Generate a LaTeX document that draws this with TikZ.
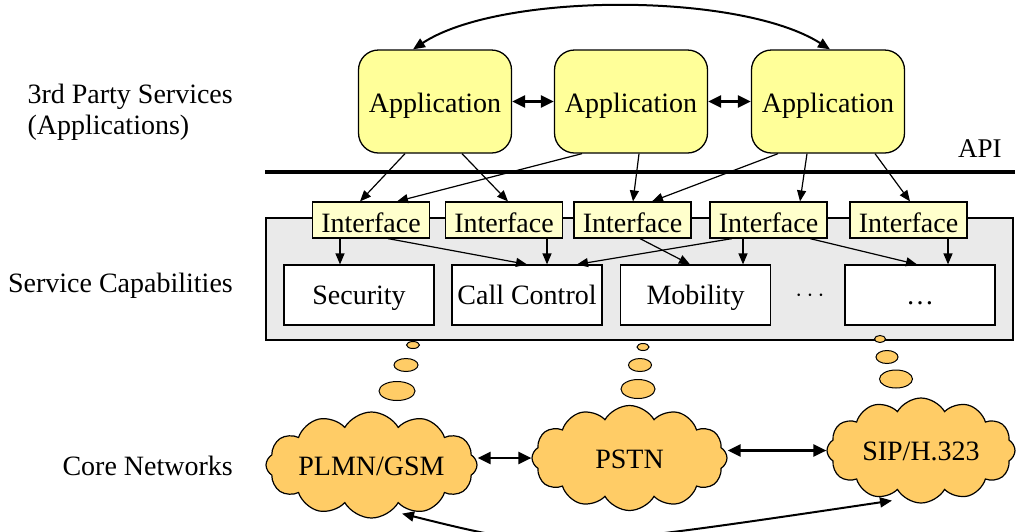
\documentclass[tikz,border=0pt]{standalone}
\usepackage{fontspec}
\setmainfont{Liberation Serif}
\usetikzlibrary{arrows.meta,shapes.symbols}
\definecolor{appfill}{HTML}{FFFF99}
\definecolor{intfill}{HTML}{FFFFCC}
\definecolor{cloudfill}{HTML}{FFCC66}
\definecolor{panelfill}{HTML}{EAEAEA}
\begin{document}
\begin{tikzpicture}[x=1pt,y=-1pt,
  every node/.style={font=\fontsize{28}{31}\selectfont},
  lbl/.style={inner sep=0pt},
  app/.style={draw,line width=1.3pt,fill=appfill,rounded corners=20pt,minimum width=153pt,minimum height=103pt,inner sep=0pt,text height=24pt,text depth=2pt},
  intf/.style={draw,line width=1.2pt,fill=intfill,minimum width=117pt,minimum height=36pt,inner sep=0pt,text height=24pt,text depth=0pt},
  capbox/.style={draw,line width=1.2pt,fill=white,minimum width=150pt,minimum height=60pt,inner sep=0pt,text height=22pt,text depth=4pt},
  panel/.style={draw,line width=1.2pt,fill=panelfill,minimum width=747pt,minimum height=122pt,inner sep=0pt},
  cloudn/.style={cloud,cloud puffs=12,cloud puff arc=120,cloud ignores aspect,draw,line width=1.2pt,fill=cloudfill,inner sep=0pt,text height=20pt,text depth=0pt},
  bubble/.style={draw,line width=1pt,fill=cloudfill},
  arr/.style={-{Triangle[length=11pt,width=9pt]},line width=1.2pt},
  dbl/.style={{Triangle[length=13pt,width=12pt]}-{Triangle[length=13pt,width=12pt]},line width=2.5pt},
  arcarrow/.style={{Triangle[length=12pt,width=10pt]}-{Triangle[length=12pt,width=10pt]},line width=2pt}
]
\useasboundingbox (0,0) rectangle (1019,531);

% left labels
\node[lbl,anchor=north east,align=left] (l1) at (233,84) {3rd Party Services\\(Applications)};
\node[lbl,anchor=base east] (l2) at (233,292) {Service Capabilities};
\node[lbl,anchor=base east] (l3) at (233,475) {Core Networks};

% applications
\node[app] (a1) at (435,101.5) {Application};
\node[app] (a2) at (631,101.5) {Application};
\node[app] (a3) at (828,101.5) {Application};

% API line
\coordinate (apiL) at (265,172);
\coordinate (apiR) at (1015,172);
\draw[line width=4pt] (apiL) -- (apiR);
\node[lbl,anchor=base west,font=\fontsize{27}{30}\selectfont] (api) at (958,157) {API};

% service capabilities panel
\node[panel] (pan) at (639.5,279) {};
\node[intf] (i1) at (371,220) {Interface};
\node[intf] (i2) at (504,220) {Interface};
\node[intf] (i3) at (632.5,220) {Interface};
\node[intf] (i4) at (768.5,220) {Interface};
\node[intf] (i5) at (908.5,220) {Interface};

\node[capbox] (sec) at (359,295) {Security};
\node[capbox] (cc) at (527,295) {Call Control};
\node[capbox] (mob) at (695.5,295) {Mobility};
\node[lbl,font=\fontsize{30}{31}\selectfont] (dots) at (810,296) {$\cdots$};
\node[capbox] (more) at (920,295) {\ldots};

% arrows between applications
\draw[dbl] (a1.east) -- (a2.west);
\draw[dbl] (a2.east) -- (a3.west);
\draw[arcarrow] ([xshift=-22pt]a1.north) .. controls (500,-8) and (740,-8) .. ([xshift=2pt]a3.north);

% applications to interfaces
\draw[arr] ([xshift=-30pt]a1.south) -- ([xshift=-11pt]i1.north);
\draw[arr] ([xshift=27pt]a1.south) -- ([xshift=4pt]i2.north);
\draw[arr] ([xshift=-49pt]a2.south) -- ([xshift=26pt]i1.north);
\draw[arr] ([xshift=8pt]a2.south) -- ([xshift=0.5pt]i3.north);
\draw[arr] ([xshift=-50pt]a3.south) -- ([xshift=19.5pt]i3.north);
\draw[arr] ([xshift=-21pt]a3.south) -- ([xshift=31.5pt]i4.north);
\draw[arr] ([xshift=47pt]a3.south) -- ([xshift=1.5pt]i5.north);

% interfaces to capabilities
\draw[arr] ([xshift=-31pt]i1.south) -- ([xshift=-19pt]sec.north);
\draw[arr] ([xshift=17pt]i1.south) -- (cc.north);
\draw[arr] ([xshift=43pt]i2.south) -- ([xshift=20pt]cc.north);
\draw[arr] ([xshift=7.5pt]i3.south) -- ([xshift=-5.5pt]mob.north);
\draw[arr] ([xshift=-36.5pt]i4.south) -- ([xshift=50pt]cc.north);
\draw[arr] ([xshift=-25.5pt]i4.south) -- ([xshift=47.5pt]mob.north);
\draw[arr] ([xshift=41.5pt]i4.south) -- ([xshift=-3pt]more.north);
\draw[arr] ([xshift=39.5pt]i5.south) -- ([xshift=28pt]more.north);

% thought bubbles
\filldraw[bubble] (413,345) ellipse [x radius=6.5pt,y radius=3.5pt];
\filldraw[bubble] (406,365) ellipse [x radius=12pt,y radius=6.5pt];
\filldraw[bubble] (397,391) ellipse [x radius=18pt,y radius=9.5pt];
\filldraw[bubble] (643,347) ellipse [x radius=6pt,y radius=3.5pt];
\filldraw[bubble] (640,365) ellipse [x radius=11.5pt,y radius=6.5pt];
\filldraw[bubble] (638,389) ellipse [x radius=17pt,y radius=9.5pt];
\filldraw[bubble] (880,339) ellipse [x radius=5.5pt,y radius=3.5pt];
\filldraw[bubble] (887,357) ellipse [x radius=11pt,y radius=6.5pt];
\filldraw[bubble] (896,379) ellipse [x radius=16.5pt,y radius=9pt];

% core networks
\node[cloudn,minimum width=211pt,minimum height=106pt] (plmn) at (371.5,465) {PLMN/GSM};
\node[cloudn,minimum width=195pt,minimum height=105pt] (pstn) at (629.5,458) {PSTN};
\node[cloudn,minimum width=188pt,minimum height=105pt] (sip) at (921,450.5) {SIP/H.323};

\draw[dbl] (plmn.east |- pstn.west) -- (pstn.west);
\draw[dbl] (pstn.east |- sip.west) -- (sip.west);
\draw[arcarrow] ([xshift=30.5pt,yshift=5pt]plmn.south) .. controls (553,551) .. ([xshift=-29pt,yshift=3pt]sip.south);
\end{tikzpicture}
\end{document}
